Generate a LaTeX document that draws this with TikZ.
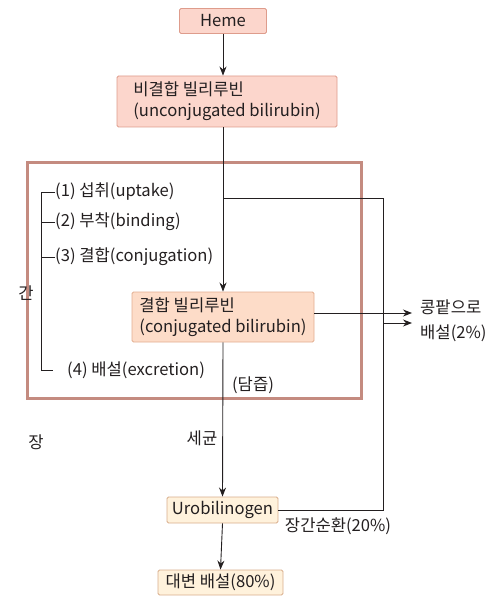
\documentclass[tikz,border=0pt]{standalone}
\usepackage{fontspec}
\setmainfont{Noto Sans CJK KR}
\usepackage{tikz}
\usetikzlibrary{positioning, calc, arrows.meta}
\definecolor{Ink}{HTML}{231F20}
\definecolor{PinkFill}{HTML}{FCD6CC}
\definecolor{PinkLine}{HTML}{DE9C8C}
\definecolor{PeachFill}{HTML}{FDDCC8}
\definecolor{PeachLine}{HTML}{E2AE90}
\definecolor{CreamFill}{HTML}{FFF2DC}
\definecolor{CreamLine}{HTML}{D8AC8A}
\definecolor{Liver}{HTML}{C48B80}
\tikzset{
    pinknode/.style={rectangle, rounded corners=1.5pt, draw=PinkLine, fill=PinkFill, text=Ink, line width=0.9pt},
    peachnode/.style={rectangle, rounded corners=1.5pt, draw=PeachLine, fill=PeachFill, text=Ink, line width=0.9pt},
    creamnode/.style={rectangle, rounded corners=1.5pt, draw=CreamLine, fill=CreamFill, text=Ink, line width=0.9pt},
    label/.style={text=Ink, inner sep=0pt},
    arrow/.style={-{Stealth[length=9pt, width=7pt]}, line width=0.9pt, color=Ink},
    line/.style={line width=0.9pt, color=Ink},
}

\begin{document}
\begin{tikzpicture}[x=1pt, y=-1pt, font=\fontsize{16.6}{21}\selectfont]
    \useasboundingbox (0,0) rectangle (493,601);

    % Liver (간)
    \draw[Liver, line width=3pt] (27,163) rectangle (361,398);

    % Boxes
    \node[pinknode, minimum width=87pt, minimum height=25pt] (heme) at (223,21) {Heme};
    \node[pinknode, minimum width=220pt, minimum height=51pt, align=left] (uncon) at (227,101.5) {비결합 빌리루빈\\(unconjugated bilirubin)};
    \node[peachnode, minimum width=182pt, minimum height=50pt, align=left] (conj) at (223,317) {결합 빌리루빈\\(conjugated bilirubin)};
    \node[creamnode, minimum width=111pt, minimum height=26pt] (uro) at (222.5,510) {Urobilinogen};
    \node[creamnode, minimum width=125pt, minimum height=25pt] (feces) at (220.5,582.5) {대변 배설(80\%)};

    % Steps in the liver
    \node[label, anchor=west] (s1) at (55,192) {(1) 섭취(uptake)};
    \node[label, anchor=west] (s2) at (55,222) {(2) 부착(binding)};
    \node[label, anchor=west] (s3) at (55,257) {(3) 결합(conjugation)};
    \node[label, anchor=west] (s4) at (67,370) {(4) 배설(excretion)};
    \node[label] (gan) at (26,293) {간};
    \draw[line] (s1.west) -- (41,192) -- (41,370) -- (53,370);
    \draw[line] (s2.west) -- (41,222);
    \draw[line] (s3.west) -- (41,257);

    % Other texts
    \node[label] (bile) at (253,385) {(담즙)};
    \node[label] (jang) at (36,442) {장};
    \node[label] (bact) at (202,438) {세균};
    \node[label] (ehc) at (338,526) {장간순환(20\%)};
    \node[label, anchor=west] (kid1) at (420,307) {콩팥으로};
    \node[label, anchor=west] (kid2) at (420,333) {배설(2\%)};

    % Main flow
    \draw[arrow] (heme.south) -- (heme.south |- uncon.north);
    \draw[arrow] (heme.south |- uncon.south) -- (conj.north);
    \draw[arrow] (conj.south) -- (uro.north);
    \draw[arrow] (uro.south) -- (feces.north);

    % Enterohepatic circulation
    \coordinate (branch) at (223,198);
    \coordinate (back) at (383,198);
    \draw[line] (branch) -- (back) |- (uro.east);

    % To the kidney
    \coordinate (kidA) at (412,313);
    \coordinate (kidB) at (412,323);
    \draw[arrow] (conj.east |- kidA) -- (kidA);
    \draw[arrow] (back |- kidB) -- (kidB);
\end{tikzpicture}
\end{document}
